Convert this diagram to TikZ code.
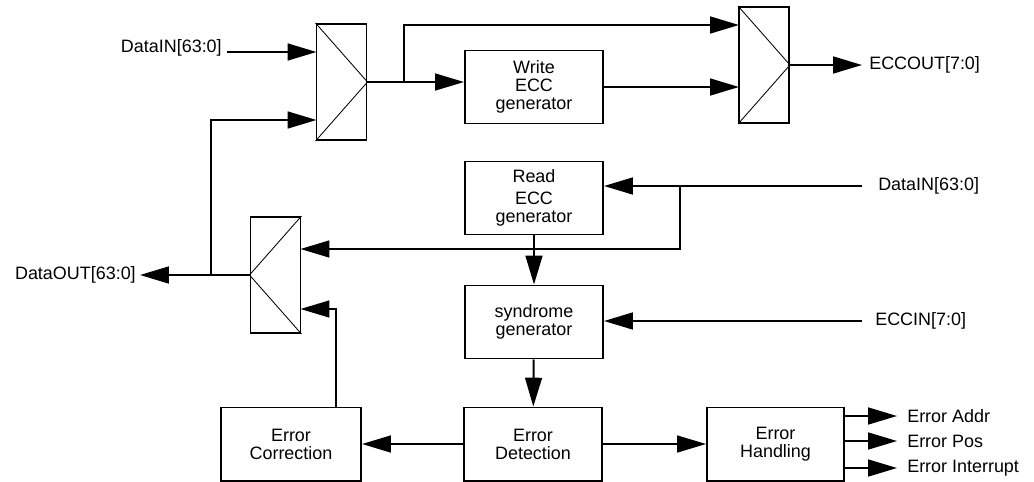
\documentclass[tikz,border=0pt]{standalone}
\usepackage{fontspec}
\setmainfont{Liberation Sans}
\usetikzlibrary{arrows.meta, positioning}

\newcommand{\blkfont}{\fontsize{12.76}{12.8}\selectfont}

\tikzset{
  blk/.style={draw, line width=1.4pt, minimum width=3.45cm, minimum height=1.825cm,
              align=center, inner sep=0pt, font=\blkfont},
  mux/.style={draw, line width=1.4pt, minimum width=1.25cm, minimum height=2.9cm, inner sep=0pt},
  wire/.style={line width=1.4pt, line join=miter},
  arr/.style={wire, -{Triangle[length=0.72cm, width=0.42cm]}},
  sig/.style={inner ysep=0pt, font=\blkfont},
  diag/.style={line width=0.6pt},
}

\begin{document}
\begin{tikzpicture}[x=0.025cm, y=-0.025cm]
        \useasboundingbox (0,0) rectangle (1034,481);

        % Multiplexers
        \node[mux] (muxa) at (341.5,82) {};
        \node[mux] (muxb) at (764,65) {};
        \node[mux] (muxc) at (275.5,275) {};
        \draw[diag] (muxa.north west) -- (muxa.east) -- (muxa.south west);
        \draw[diag] (muxb.north west) -- (muxb.east) -- (muxb.south west);
        \draw[diag] (muxc.north east) -- (muxc.west) -- (muxc.south east);

        % Mux inputs
        \coordinate (muxa-i1) at (316.5,52);
        \coordinate (muxa-i2) at (316.5,120);
        \coordinate (muxb-i1) at (739,25);
        \coordinate (muxb-i2) at (739,87);
        \coordinate (muxc-i1) at (300.5,249);
        \coordinate (muxc-i2) at (300.5,309);

        % Blocks
        \node[blk] (wecc) at (534,87) {Write\\ECC\\generator};
        \node[blk] (recc) at (534,198) {Read\\[3pt]ECC\\generator};
        \node[blk] (synd) at (534,322) {syndrome\\generator};
        \node[blk] (det) at (533,444) {Error\\Detection};
        \node[blk, minimum width=3.5cm] (corr) at (291,444) {Error\\Correction};
        \node[blk, minimum width=3.425cm] (hand) at (775.5,444) {Error\\Handling};

        % Signals
        \node[sig, anchor=base east, inner xsep=0.125cm] (dinA) at (227,52) {DataIN[63:0]};
        \node[sig, anchor=west, inner xsep=0.175cm] (eccout) at (862,65) {ECCOUT[7:0]};
        \node[sig, anchor=west, inner xsep=0.4cm] (dinB) at (862,186) {DataIN[63:0]};
        \node[sig, anchor=west, inner xsep=0.325cm] (eccin) at (862,321) {ECCIN[7:0]};
        \node[sig, anchor=east, inner xsep=0.1cm] (dout) at (140,275) {DataOUT[63:0]};
        \node[sig, anchor=west, inner xsep=0.25cm] (eaddr) at (897,416) {Error Addr};
        \node[sig, anchor=west, inner xsep=0.25cm] (epos) at (897,441) {Error Pos};
        \node[sig, anchor=west, inner xsep=0.25cm] (eint) at (897,468) {Error Interrupt};

        % Branch points
        \coordinate (spA) at (404,82);
        \coordinate (spB) at (680,186);
        \coordinate (spC) at (211,275);

        % Write path
        \draw[arr] (dinA.base east) -- (muxa-i1);
        \draw[arr] (spC) |- (muxa-i2);
        \draw[arr] (muxa.east) -- (muxa.east -| wecc.west);
        \draw[arr] (spA) |- (muxb-i1);
        \draw[arr] (wecc.east |- muxb-i2) -- (muxb-i2);
        \draw[arr] (muxb.east) -- (eccout.west);

        % Read path
        \draw[arr] (dinB.west) -- (dinB.west -| recc.east);
        \draw[arr] (spB) |- (muxc-i1);
        \draw[arr] (recc) -- (synd);
        \draw[arr] (eccin.west) -- (eccin.west -| synd.east);
        \draw[arr] (synd) -- (det);
        \draw[arr] (det) -- (corr);
        \draw[arr] (det) -- (hand);
        \draw[arr] ([xshift=-0.65cm]corr.north east) |- (muxc-i2);
        \draw[arr] (muxc.west) -- (dout.east);

        % Error outputs
        \draw[arr] (eaddr.west -| hand.east) -- (eaddr.west);
        \draw[arr] (epos.west -| hand.east) -- (epos.west);
        \draw[arr] (eint.west -| hand.east) -- (eint.west);
    \end{tikzpicture}
\end{document}
